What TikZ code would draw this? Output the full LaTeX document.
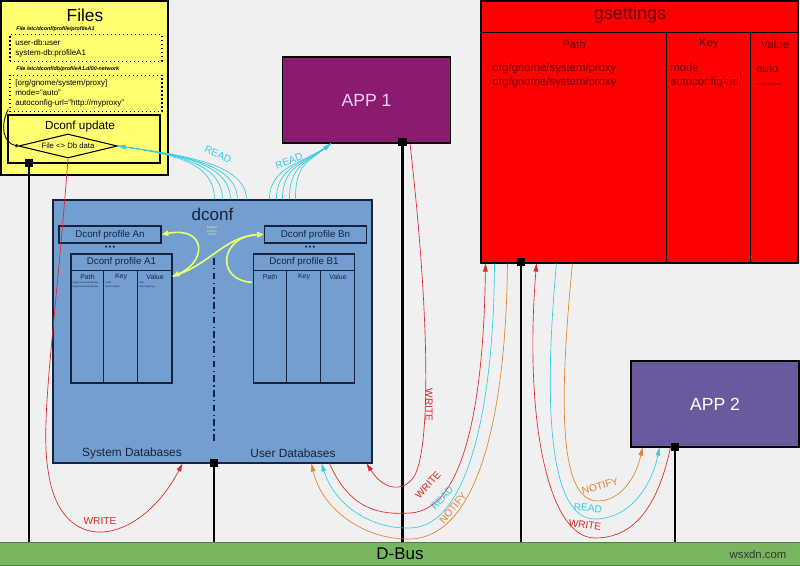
\documentclass[tikz,border=0pt]{standalone}
\usepackage{fontspec}
\setmainfont{Liberation Sans}
\usetikzlibrary{shapes.geometric, arrows.meta, positioning, calc}
\definecolor{bgcol}{RGB}{240,240,240}
\definecolor{filecol}{RGB}{255,255,112}
\definecolor{app1col}{RGB}{139,27,112}
\definecolor{app2col}{RGB}{106,90,157}
\definecolor{dconfcol}{RGB}{114,159,207}
\definecolor{buscol}{RGB}{119,182,94}
\definecolor{readcol}{RGB}{51,204,232}
\definecolor{writecol}{RGB}{222,40,40}
\definecolor{notifycol}{RGB}{230,130,40}
\definecolor{ycol}{RGB}{232,255,110}
\definecolor{navy}{RGB}{22,34,62}
\definecolor{gtext}{RGB}{100,0,0}
\newcommand{\fsz}[2]{\fontsize{#1}{#2}\selectfont}
\tikzset{
    box/.style={
        rectangle,
        draw=black,
        line width=0.8pt,
        inner sep=0pt,
        fill=#1
    },
    app/.style={
        box=#1,
        minimum width=126pt,
        minimum height=64.5pt,
        text=white,
        font=\fsz{13.2}{15}
    },
    port/.style={rectangle, fill=black, inner sep=0pt, minimum size=6.5pt},
    bus/.style={line width=1.6pt, black},
    dotbox/.style={
        rectangle,
        draw=black,
        dotted,
        line width=1pt,
        minimum width=114pt,
        inner xsep=4pt,
        text width=106pt,
        align=left,
        font=\fsz{6}{7.5}
    },
    filelbl/.style={font=\fsz{4}{5}\bfseries\itshape, anchor=west, inner sep=0pt},
    profile/.style={
        rectangle,
        draw=navy,
        line width=1pt,
        minimum width=76.5pt,
        minimum height=12.75pt,
        inner sep=0pt,
        text=navy,
        font=\fsz{7.3}{8}
    },
    dbtable/.style={
        rectangle,
        draw=navy,
        line width=1pt,
        minimum width=75.75pt,
        minimum height=96.75pt,
        inner sep=0pt
    },
    tblline/.style={navy, line width=0.8pt},
    colhead/.style={text=navy, font=\fsz{5.2}{6}, inner sep=0pt},
    tinyrow/.style={text=navy, font=\fsz{1.8}{3.5}, anchor=west, align=left, inner sep=0pt},
    dots/.style={text=navy, font=\fsz{5.5}{6}\bfseries, inner sep=0pt},
    ghead/.style={text=gtext, font=\fsz{8.5}{10}, inner sep=0pt},
    gsrow/.style={text=gtext, font=\fsz{8.5}{10.5}, anchor=west, align=left, inner sep=0pt},
    flowtip/.tip={Triangle[length=6pt,width=3.5pt]},
    ytip/.tip={Triangle[length=5pt,width=4pt]},
    flow/.style={line width=0.5pt, -flowtip},
    readline/.style={flow, readcol},
    writeline/.style={flow, writecol},
    notifyline/.style={flow, notifycol},
    yline/.style={ycol, line width=1.2pt},
    flowlbl/.style={font=\fsz{7.6}{9}, inner sep=0pt}
}

\begin{document}
\begin{tikzpicture}[x=0.75pt, y=-0.75pt]
    \useasboundingbox (0,0) rectangle (800,565);
    \fill[bgcol] (0,0) rectangle (800,565);

    % D-Bus
    \node[rectangle, fill=buscol, draw=buscol!70!black, minimum width=602pt, minimum height=17.25pt,
          inner sep=0pt, font=\fsz{12.7}{14}] (dbus) at (400,553.5) {D-Bus};
    \node[font=\fsz{8.5}{9}, text=black!80] (wm) at (758,554) {wsxdn.com};

    % Files
    \node[box=filecol, minimum width=125.25pt, minimum height=130.5pt] (files) at (84.5,88) {};
    \node[font=\fsz{13}{15}] (filestitle) at (85,15) {Files};
    \node[filelbl] (lblprof) at (16,29) {File /etc/dconf/profile/profileA1};
    \node[dotbox, minimum height=19.5pt] (proffile) at (86,48) {user-db:user\\system-db:profileA1};
    \node[filelbl] (lbldb) at (16,69) {File /etc/dconf/db/profileA1.d/00-network};
    \node[dotbox, minimum height=26.25pt] (dbfile) at (86,93.5)
        {[org/gnome/system/proxy]\\mode="auto"\\autoconfig-url="http://myproxy"};
    \node[box=filecol, minimum width=114pt, minimum height=36pt] (upd) at (84,139) {};
    \node[font=\fsz{8.8}{10}] (updtitle) at (80,126) {Dconf update};
    \node[diamond, draw=black, line width=0.8pt, fill=filecol, aspect=4, inner sep=0pt,
          minimum width=74pt, minimum height=18pt, font=\fsz{5.8}{7}] (diff) at (68,146) {File <> Db data};
    \node[port] (fport) at (29,163) {};
    \draw[line width=0.6pt, -{Circle[length=2.5pt]}] ($(dbfile.south west)+(-1,-3)$)
        .. controls (0,125) and (3,143) .. (diff.west);

    % APP 1
    \node[app=app1col, text={rgb,255:red,245;green,212;blue,240}] (app1) at (366.5,100) {APP 1};
    \node[port] (a1port) at (402.5,142) {};

    % gsettings
    \node[box=red, minimum width=237.75pt, minimum height=196.5pt] (gset) at (639.5,132) {};
    \node[font=\fsz{13.5}{15}, text=gtext] (gtitle) at (630,15) {gsettings};
    \draw[line width=0.8pt] ($(gset.north west)+(0,32)$) -- ($(gset.north east)+(0,32)$);
    \draw[line width=0.8pt] ($(gset.north west)+(186,32)$) -- ($(gset.south west)+(186,0)$);
    \draw[line width=0.8pt] ($(gset.north west)+(270,32)$) -- ($(gset.south west)+(270,0)$);
    \node[ghead] (gpath) at (574,44) {Path};
    \node[ghead] (gkey) at (709,44) {Key};
    \node[ghead] (gval) at (775,44) {Value};
    \node[gsrow] (gpathrows) at (492,76) {org/gnome/system/proxy\\org/gnome/system/proxy};
    \node[gsrow] (gkeyrows) at (670,76) {mode\\autoconfig-url};
    \node[gsrow] (gval1) at (756,69) {auto};
    \node[text=gtext, font=\fsz{3}{3.5}, anchor=west, inner sep=0pt] (gval2) at (757,84) {http://myproxy};
    \node[port] (gport) at (521,262) {};

    % dconf
    \node[box=dconfcol, draw=navy, minimum width=239.25pt, minimum height=197.25pt] (dconf) at (212.5,331.5) {};
    \node[font=\fsz{12.8}{14}, text=navy] (dtitle) at (212.5,214) {dconf};
    \node[profile] (an) at (110,234.5) {Dconf profile An};
    \node[profile] (bn) at (315.5,234.5) {Dconf profile Bn};
    \node[dots] (dotsa) at (110,248) {\textbullet\,\textbullet\,\textbullet};
    \node[dots] (dotsb) at (310,248) {\textbullet\,\textbullet\,\textbullet};

    \node[dbtable] (a1) at (121.5,318.5) {};
    \draw[tblline] ($(a1.north west)+(0,17)$) -- ($(a1.north east)+(0,17)$);
    \draw[tblline] ($(a1.north west)+(33,17)$) -- ($(a1.south west)+(33,0)$);
    \draw[tblline] ($(a1.north west)+(67,17)$) -- ($(a1.south west)+(67,0)$);
    \node[text=navy, font=\fsz{7.3}{8}] (a1title) at ($(a1.north)+(0,8.5)$) {Dconf profile A1};
    \node[colhead] (a1path) at (87.5,277) {Path};
    \node[colhead] (a1key) at (121,277) {Key};
    \node[colhead] (a1val) at (155,277) {Value};
    \node[tinyrow] (a1rowp) at (72,285) {org/gnome/system/proxy\\org/gnome/system/proxy};
    \node[tinyrow] (a1rowk) at (105,285) {mode\\autoconfig-url};
    \node[tinyrow] (a1rowv) at (139,285) {auto\\http://myproxy};

    \node[dbtable] (b1) at (304,318.5) {};
    \draw[tblline] ($(b1.north west)+(0,17)$) -- ($(b1.north east)+(0,17)$);
    \draw[tblline] ($(b1.north west)+(34,17)$) -- ($(b1.south west)+(34,0)$);
    \draw[tblline] ($(b1.north west)+(68,17)$) -- ($(b1.south west)+(68,0)$);
    \node[text=navy, font=\fsz{7.3}{8}] (b1title) at ($(b1.north)+(0,8.5)$) {Dconf profile B1};
    \node[colhead] (b1path) at (270,277) {Path};
    \node[colhead] (b1key) at (304,277) {Key};
    \node[colhead] (b1val) at (338,277) {Value};

    \coordinate (septop) at (214,258);
    \coordinate (sepbot) at (214,442);
    \draw[navy, line width=1.2pt, dash pattern=on 5pt off 2.5pt on 1pt off 2.5pt] (septop) -- (sepbot);
    \node[text=navy, font=\fsz{8.9}{10}] (sysdb) at (132,453) {System Databases};
    \node[text=navy, font=\fsz{8.9}{10}] (userdb) at (293,453) {User Databases};
    \node[port] (dport) at (214,463) {};

    % APP 2
    \node[app=app2col] (app2) at (715,404) {APP 2};
    \node[port] (a2port) at (675,447) {};

    % bus lines
    \foreach \p in {fport, dport, a1port, gport, a2port}
        \draw[bus] (\p.center) -- (\p.center |- dbus.north);

    % profile priority
    \coordinate (a1v) at ($(a1.north east)+(0,23)$);
    \coordinate (b1p) at ($(b1.north west)+(-1,29)$);
    \draw[yline, ytip-ytip] (a1v) .. controls (207,262) and (207,226) .. (an.east);
    \draw[yline, -ytip] (a1v) .. controls (210,265) and (225,236) .. (bn.west);
    \draw[yline, -ytip] (b1p) .. controls (215,280) and (220,236) .. (bn.west);
    \node[text=ycol, font=\fsz{2.2}{2.6}, align=center, inner sep=0pt] (prio) at (212,231) {Highest\\Priority\\Value};

    % READ from dconf
    \foreach \dx in {162,170,185,194}
        \draw[readcol, line width=0.5pt] ($(dconf.north west)+(\dx,0)$) .. controls +(0,-38) and +(55,8) .. (diff.east);
    \draw[readline] ($(dconf.north west)+(178,0)$) .. controls +(0,-38) and +(55,8) .. (diff.east);
    \coordinate (app1in) at ($(app1.south west)+(49,0)$);
    \foreach \dx in {217,224,237,243}
        \draw[readcol, line width=0.5pt] ($(dconf.north west)+(\dx,0)$) .. controls +(0,-35) and +(-25,20) .. (app1in);
    \draw[readline] ($(dconf.north west)+(230,0)$) .. controls +(0,-35) and +(-25,20) .. (app1in);
    \node[flowlbl, text=readcol, rotate=-25] (readf) at (218,154) {READ};
    \node[flowlbl, text=readcol, rotate=20] (reada) at (289,161) {READ};

    % WRITE to dconf
    \draw[writeline] (diff.south) .. controls (55,330) and (40,420) .. (48,470)
        .. controls (60,560) and (140,545) .. ($(dconf.south west)+(130,0)$);
    \node[flowlbl, text=writecol] (writef) at (100,521) {WRITE};
    \draw[writeline] ($(app1.south west)+(128,0)$) .. controls (428,300) and (432,440) .. (415,475)
        .. controls (405,492) and (385,492) .. ($(dconf.south east)+(-6,0)$);
    \node[flowlbl, text=writecol, rotate=-90] (writea) at (429,405) {WRITE};

    % dconf <-> gsettings
    \draw[writeline] ($(dconf.south west)+(277,0)$) .. controls (350,510) and (380,515) .. (410,513)
        .. controls (470,510) and (484,380) .. ($(gset.south west)+(5,0)$);
    \draw[readline] ($(gset.south west)+(14,0)$) .. controls (494,400) and (470,527) .. (410,528)
        .. controls (370,529) and (335,505) .. ($(dconf.south west)+(269,0)$);
    \draw[notifyline] ($(gset.south west)+(27,0)$) .. controls (506,410) and (480,537) .. (410,539)
        .. controls (365,540) and (322,510) .. ($(dconf.south west)+(259,0)$);
    \node[flowlbl, text=writecol, rotate=48] (writeg) at (428,485) {WRITE};
    \node[flowlbl, text=readcol, rotate=48] (readg) at (442,498) {READ};
    \node[flowlbl, text=notifycol, rotate=51] (notifyg) at (453,508) {NOTIFY};

    % gsettings <-> APP 2
    \draw[writeline] ($(app2.south west)+(40,0)$) .. controls (655,520) and (625,538) .. (595,538)
        .. controls (548,538) and (524,420) .. ($(gset.south west)+(56,0)$);
    \draw[readline] ($(gset.south west)+(76,0)$) .. controls (542,420) and (552,519) .. (595,519)
        .. controls (630,519) and (652,485) .. ($(app2.south west)+(29,0)$);
    \draw[notifyline] ($(gset.south west)+(92,0)$) .. controls (557,420) and (562,501) .. (598,501)
        .. controls (620,501) and (636,478) .. ($(app2.south west)+(12,0)$);
    \node[flowlbl, text=writecol, rotate=-8] (writeb) at (585,525) {WRITE};
    \node[flowlbl, text=readcol, rotate=-5] (readb) at (588,508) {READ};
    \node[flowlbl, text=notifycol, rotate=15] (notifyb) at (600,486) {NOTIFY};
\end{tikzpicture}
\end{document}
